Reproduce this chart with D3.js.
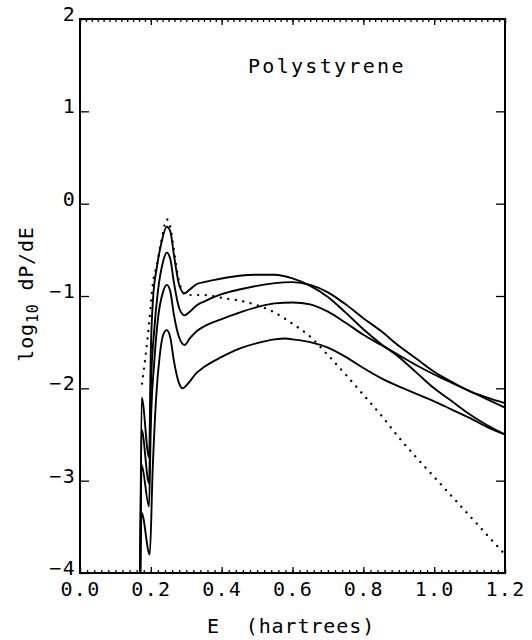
<!DOCTYPE html>
<html>
<head>
<meta charset="utf-8">
<script src="https://cdn.jsdelivr.net/npm/d3@7"></script>
<style>
  body { margin: 0; background: #fff; }
  svg text { font-family: "DejaVu Sans Mono", monospace; fill: #000; }
</style>
</head>
<body>
<script>
// energies (hartrees) and log10 dP/dE for each curve
let curveA_E = [0.17, 0.174, 0.195, 0.2, 0.206, 0.217, 0.23, 0.245, 0.255, 0.265, 0.28, 0.295, 0.31, 0.33, 0.35, 0.4, 0.45, 0.5, 0.55, 0.6, 0.65, 0.7, 0.75, 0.8, 0.85, 0.9, 0.95, 1.0, 1.05, 1.1, 1.15, 1.2];
let curveA_V = [-4, -2.1, -2.75, -1.6, -1.04, -0.69, -0.42, -0.25, -0.3, -0.55, -0.88, -0.97, -0.93, -0.87, -0.85, -0.81, -0.78, -0.77, -0.77, -0.81, -0.89, -1.01, -1.18, -1.36, -1.52, -1.66, -1.83, -2.0, -2.14, -2.28, -2.4, -2.5];

let curveB_E = [0.17, 0.174, 0.195, 0.2, 0.21, 0.22, 0.235, 0.245, 0.255, 0.265, 0.28, 0.295, 0.31, 0.33, 0.35, 0.4, 0.45, 0.5, 0.55, 0.6, 0.65, 0.7, 0.75, 0.8, 0.85, 0.9, 0.95, 1.0, 1.05, 1.1, 1.15, 1.2];
let curveB_V = [-4, -2.45, -3.03, -2.0, -1.35, -0.95, -0.62, -0.53, -0.6, -0.85, -1.13, -1.21, -1.17, -1.1, -1.06, -0.98, -0.93, -0.89, -0.86, -0.85, -0.88, -0.96, -1.09, -1.24, -1.38, -1.54, -1.68, -1.82, -1.93, -2.03, -2.1, -2.16];

let curveC_E = [0.17, 0.174, 0.195, 0.2, 0.21, 0.22, 0.235, 0.245, 0.255, 0.265, 0.28, 0.295, 0.31, 0.33, 0.35, 0.4, 0.45, 0.5, 0.55, 0.6, 0.65, 0.7, 0.75, 0.8, 0.85, 0.9, 0.95, 1.0, 1.05, 1.1, 1.15, 1.2];
let curveC_V = [-4, -2.83, -3.28, -2.4, -1.7, -1.25, -0.95, -0.88, -0.95, -1.2, -1.45, -1.53, -1.46, -1.38, -1.33, -1.25, -1.18, -1.12, -1.08, -1.07, -1.09, -1.17, -1.29, -1.42, -1.53, -1.64, -1.75, -1.85, -1.94, -2.03, -2.12, -2.21];

let curveD_E = [0.17, 0.174, 0.197, 0.205, 0.215, 0.225, 0.235, 0.245, 0.255, 0.265, 0.28, 0.29, 0.3, 0.33, 0.35, 0.4, 0.45, 0.5, 0.55, 0.58, 0.6, 0.65, 0.7, 0.75, 0.8, 0.85, 0.9, 0.95, 1.0, 1.05, 1.1, 1.15, 1.2];
let curveD_V = [-4, -3.35, -3.8, -2.9, -2.1, -1.65, -1.42, -1.37, -1.45, -1.7, -1.95, -2.0, -1.97, -1.83, -1.77, -1.66, -1.57, -1.51, -1.47, -1.46, -1.47, -1.5, -1.56, -1.66, -1.78, -1.89, -1.98, -2.06, -2.14, -2.23, -2.32, -2.42, -2.5];

let dotted_E = [0.175, 0.185, 0.195, 0.206, 0.217, 0.23, 0.245, 0.255, 0.265, 0.28, 0.3, 0.35, 0.4, 0.45, 0.5, 0.55, 0.6, 0.65, 0.7, 0.75, 0.8, 0.85, 0.9, 0.95, 1.0, 1.05, 1.1, 1.15, 1.2];
let dotted_V = [-1.95, -1.65, -1.3, -0.86, -0.66, -0.4, -0.17, -0.25, -0.5, -0.85, -0.99, -0.99, -1.02, -1.05, -1.1, -1.18, -1.3, -1.44, -1.64, -1.85, -2.07, -2.29, -2.53, -2.75, -2.96, -3.17, -3.38, -3.59, -3.8];

let xTicks = [0, 0.2, 0.4, 0.6, 0.8, 1.0, 1.2];
let yTicks = [-4, -3, -2, -1, 0, 1, 2];
let title = "Polystyrene";

let W = 532, H = 640;
let margin = {top: 19, right: 27, bottom: 67, left: 80};

let x = d3.scaleLinear().domain([0, 1.2]).range([margin.left, W - margin.right]);
let y = d3.scaleLinear().domain([-4, 2]).range([H - margin.bottom, margin.top]);

let svg = d3.select("body").append("svg")
    .attr("width", W)
    .attr("height", H);

svg.append("rect").attr("width", W).attr("height", H).attr("fill", "#fff");

let tickStyle = g => {
    g.select(".domain").remove();
    g.selectAll(".tick line").attr("stroke", "#000").attr("stroke-width", 1.3);
    g.selectAll("text").attr("font-size", 20).attr("letter-spacing", 1.3);
};

// bottom axis: labelled ticks every 0.2, minor every 0.02
svg.append("g")
    .attr("transform", "translate(0," + y(-4) + ")")
    .call(d3.axisBottom(x).tickValues(xTicks).tickSize(-6).tickPadding(9).tickFormat(d3.format(".1f")))
    .call(tickStyle);
svg.append("g")
    .attr("transform", "translate(0," + y(-4) + ")")
    .call(d3.axisBottom(x).tickValues(d3.range(0, 61).map(i => i * 0.02)).tickSize(-3).tickFormat(""))
    .call(tickStyle);

// top axis: ticks every 1/60, larger every 0.2
svg.append("g")
    .attr("transform", "translate(0," + y(2) + ")")
    .call(d3.axisTop(x).tickValues(xTicks).tickSize(-6).tickFormat(""))
    .call(tickStyle);
svg.append("g")
    .attr("transform", "translate(0," + y(2) + ")")
    .call(d3.axisTop(x).tickValues(d3.range(0, 73).map(i => i / 60)).tickSize(-3).tickFormat(""))
    .call(tickStyle);

// left and right axes
svg.append("g")
    .attr("transform", "translate(" + x(0) + ",0)")
    .call(d3.axisLeft(y).tickValues(yTicks).tickSize(-9).tickPadding(4).tickFormat(d3.format("d")))
    .call(tickStyle)
    .selectAll("text").attr("dy", "0.07em");
svg.append("g")
    .attr("transform", "translate(" + x(1.2) + ",0)")
    .call(d3.axisRight(y).tickValues(yTicks).tickSize(-9).tickFormat(""))
    .call(tickStyle);

// frame
svg.append("rect")
    .attr("x", x(0))
    .attr("y", y(2))
    .attr("width", x(1.2) - x(0))
    .attr("height", y(-4) - y(2))
    .attr("fill", "none")
    .attr("stroke", "#000")
    .attr("stroke-width", 2);

let line = d3.line()
    .x(d => x(d[0]))
    .y(d => y(d[1]))
    .curve(d3.curveMonotoneX);

let solids = [
    d3.zip(curveA_E, curveA_V),
    d3.zip(curveB_E, curveB_V),
    d3.zip(curveC_E, curveC_V),
    d3.zip(curveD_E, curveD_V)
];

svg.append("g").selectAll("path")
    .data(solids)
    .join("path")
    .attr("d", line)
    .attr("fill", "none")
    .attr("stroke", "#000")
    .attr("stroke-width", 1.9);

svg.append("path")
    .datum(d3.zip(dotted_E, dotted_V))
    .attr("d", line)
    .attr("fill", "none")
    .attr("stroke", "#000")
    .attr("stroke-width", 2.3)
    .attr("stroke-linecap", "round")
    .attr("stroke-dasharray", "0.1,7.5");

// texts
svg.append("text")
    .attr("x", 248)
    .attr("y", 73)
    .attr("font-size", 20)
    .attr("letter-spacing", 2.3)
    .text(title);

svg.append("text")
    .attr("x", 291)
    .attr("y", 633)
    .attr("text-anchor", "middle")
    .attr("font-size", 20)
    .attr("letter-spacing", 0.9)
    .attr("xml:space", "preserve")
    .text("E  (hartrees)");

let ylab = svg.append("text")
    .attr("transform", "translate(33,294) rotate(-90)")
    .attr("text-anchor", "middle")
    .attr("font-size", 20)
    .attr("letter-spacing", 0.8);
ylab.append("tspan").text("log");
ylab.append("tspan").attr("dy", 5).attr("font-size", 15).text("10");
ylab.append("tspan").attr("dy", -5).text(" dP/dE");
</script>
</body>
</html>
